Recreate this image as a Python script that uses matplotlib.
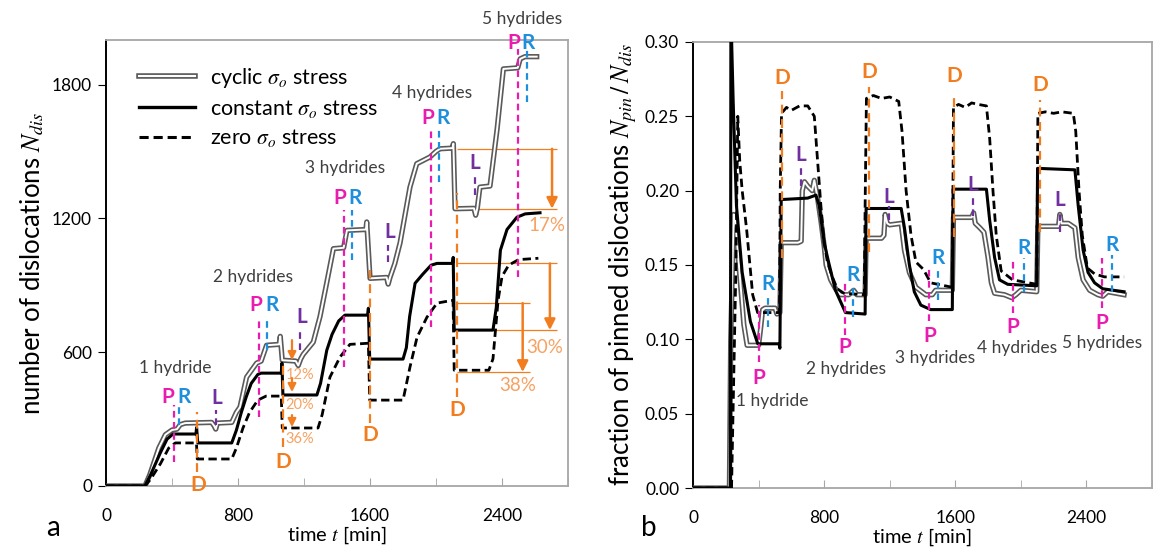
import matplotlib
matplotlib.use('Agg')
import matplotlib.pyplot as plt
import matplotlib.patheffects as pe
from matplotlib.lines import Line2D

plt.rcParams['font.family'] = ['Lato', 'DejaVu Sans']
plt.rcParams['mathtext.fontset'] = 'stix'

# ---- panel a: number of dislocations (time [min], N_dis)
cyc_a = [(0, 0), (236, 0), (265, 50), (320, 170), (360, 230), (400, 251), (430, 255), (450, 275),
         (480, 282), (640, 285), (655, 270), (665, 255), (675, 282), (762, 285), (790, 330),
         (812, 354), (852, 488), (913, 551), (940, 560), (973, 631), (1050, 635), (1056, 671),
         (1068, 564), (1150, 560), (1165, 540), (1180, 570), (1195, 590), (1256, 645),
         (1297, 760), (1337, 909), (1378, 1064), (1440, 1068), (1460, 1146), (1575, 1150),
         (1580, 1184), (1600, 931), (1700, 935), (1710, 905), (1721, 935), (1750, 997),
         (1782, 1090), (1842, 1340), (1883, 1445), (1963, 1475), (2000, 1500), (2024, 1512),
         (2100, 1515), (2105, 1535), (2115, 1243), (2230, 1245), (2240, 1214), (2250, 1245),
         (2266, 1340), (2327, 1345), (2370, 1600), (2408, 1870), (2495, 1875), (2510, 1915),
         (2539, 1925), (2610, 1925)]
con_a = [(0, 0), (236, 0), (270, 50), (330, 150), (370, 210), (406, 233), (545, 233), (549, 262),
         (556, 193), (762, 193), (790, 250), (820, 330), (850, 400), (880, 460), (920, 500),
         (940, 506), (1062, 506), (1066, 551), (1072, 408), (1278, 408), (1300, 460), (1338, 609),
         (1370, 680), (1410, 740), (1448, 766), (1585, 766), (1590, 797), (1598, 569), (1800, 569),
         (1820, 620), (1840, 760), (1873, 909), (1920, 950), (1970, 990), (2006, 998), (2100, 998),
         (2104, 1025), (2110, 699), (2345, 699), (2365, 800), (2390, 1057), (2430, 1150),
         (2490, 1205), (2540, 1220), (2630, 1225)]
zero_a = [(0, 0), (236, 0), (270, 30), (330, 100), (380, 170), (420, 193), (548, 193), (553, 121),
          (762, 121), (790, 170), (830, 260), (870, 330), (920, 385), (970, 403), (1062, 403),
          (1068, 260), (1285, 260), (1310, 320), (1357, 488), (1418, 578), (1478, 635), (1590, 640),
          (1598, 385), (1800, 385), (1842, 533), (1885, 667), (1945, 757), (2006, 820), (2103, 833),
          (2110, 519), (2320, 519), (2345, 570), (2376, 833), (2400, 940), (2440, 990),
          (2500, 1015), (2620, 1021)]

# ---- panel b: fraction of pinned dislocations
cyc_b = [(0, 0), (222, 0), (230, 0.10), (248, 0.184), (258, 0.18), (280, 0.15), (310, 0.11),
         (330, 0.096), (400, 0.096), (410, 0.105), (425, 0.12), (440, 0.121), (500, 0.121),
         (512, 0.117), (530, 0.118), (538, 0.165), (640, 0.165), (660, 0.166), (667, 0.2),
         (680, 0.206), (700, 0.203), (727, 0.2), (740, 0.207), (760, 0.195), (780, 0.18),
         (800, 0.163), (812, 0.15), (840, 0.14), (870, 0.134), (900, 0.13), (950, 0.13),
         (980, 0.133), (1000, 0.13), (1050, 0.13), (1056, 0.168), (1150, 0.168), (1165, 0.17),
         (1172, 0.184), (1185, 0.178), (1200, 0.177), (1270, 0.178), (1290, 0.16), (1320, 0.145),
         (1360, 0.135), (1420, 0.13), (1460, 0.13), (1480, 0.133), (1582, 0.133), (1589, 0.182),
         (1700, 0.182), (1712, 0.185), (1722, 0.178), (1750, 0.175), (1775, 0.172), (1800, 0.155),
         (1820, 0.138), (1840, 0.131), (1900, 0.13), (1945, 0.128), (1970, 0.13), (2000, 0.133),
         (2097, 0.132), (2104, 0.176), (2230, 0.176), (2238, 0.184), (2248, 0.178), (2290, 0.178),
         (2330, 0.175), (2350, 0.155), (2380, 0.14), (2420, 0.133), (2470, 0.13), (2500, 0.129),
         (2530, 0.132), (2630, 0.13)]
con_b = [(0, 0), (228, 0), (231, 0.32), (245, 0.26), (265, 0.19), (300, 0.145), (350, 0.112),
         (395, 0.097), (525, 0.097), (530, 0.094), (538, 0.194), (700, 0.195), (750, 0.197),
         (770, 0.19), (800, 0.165), (827, 0.152), (869, 0.133), (930, 0.118), (1050, 0.117),
         (1056, 0.188), (1270, 0.188), (1290, 0.175), (1320, 0.15), (1350, 0.132), (1390, 0.123),
         (1450, 0.12), (1582, 0.12), (1587, 0.201), (1790, 0.201), (1810, 0.18), (1840, 0.155),
         (1870, 0.14), (1920, 0.137), (2097, 0.136), (2102, 0.215), (2330, 0.214), (2350, 0.19),
         (2380, 0.16), (2410, 0.145), (2450, 0.138), (2500, 0.134), (2630, 0.132)]
zero_b = [(0, 0), (235, 0), (262, 0.15), (273, 0.25), (285, 0.22), (300, 0.20), (327, 0.174),
          (364, 0.13), (394, 0.118), (528, 0.118), (532, 0.20), (540, 0.252), (570, 0.256),
          (600, 0.254), (650, 0.257), (700, 0.257), (740, 0.25), (760, 0.22), (780, 0.19),
          (800, 0.165), (820, 0.152), (850, 0.142), (880, 0.134), (920, 0.131), (1045, 0.13),
          (1050, 0.19), (1058, 0.262), (1100, 0.264), (1150, 0.262), (1200, 0.263), (1255, 0.26),
          (1275, 0.24), (1300, 0.2), (1330, 0.17), (1360, 0.152), (1406, 0.147), (1450, 0.138),
          (1582, 0.135), (1589, 0.256), (1620, 0.258), (1660, 0.256), (1700, 0.259), (1740, 0.258),
          (1790, 0.257), (1810, 0.235), (1830, 0.2), (1850, 0.17), (1880, 0.146), (1950, 0.14),
          (2097, 0.137), (2104, 0.252), (2150, 0.253), (2200, 0.252), (2250, 0.253), (2320, 0.252),
          (2335, 0.24), (2355, 0.2), (2375, 0.17), (2406, 0.148), (2450, 0.144), (2510, 0.142),
          (2630, 0.142)]

# event markers (time, low, high) for panel a
P_a = [(412, 107, 363), (927, 309, 752), (1442, 533, 1236), (1970, 712, 1608), (2497, 936, 1961)]
R_a = [(442, 273, 363), (976, 609, 752), (1491, 1012, 1236), (2018, 1361, 1608), (2552, 1720, 1961)]
L_a = [(667, 273, 340), (1176, 609, 708), (1709, 1003, 1079), (2236, 1303, 1393)]
D_a = [(551, 63, 331), (1073, 175, 551), (1600, 282, 967), (2127, 399, 1312)]
P_txt_a = [(376, 399), (909, 810), (1418, 1290), (1951, 1648), (2473, 1988)]
R_txt_a = [(473, 399), (1006, 810), (1509, 1290), (2042, 1648), (2558, 1988)]
L_txt_a = [(673, 394), (1188, 757), (1721, 1137), (2236, 1446)]
D_txt_a = [(557, 4), (1073, 107), (1600, 228), (2127, 340)]
hyd_txt_a = [(418, 528), (891, 936), (1448, 1424), (1976, 1764), (2521, 2096)]
hyd_names = ['1 hydride', '2 hydrides', '3 hydrides', '4 hydrides', '5 hydrides']

# drop annotations panel a
small_drops = [(1127, 654, 564, '12%', 497), (1127, 484, 421, '20%', 363), (1127, 318, 264, '36%', 210)]
big_drops = [(1512, 1243, 2703, 2733, '17%', 1169), (998, 699, 2690, 2733, '30%', 622),
             (820, 511, 2525, 2570, '38%', 452)]

# event markers panel b
P_b = [(400, 0.085, 0.123), (927, 0.103, 0.139), (1442, 0.112, 0.148), (1951, 0.118, 0.153), (2497, 0.121, 0.155)]
R_b = [(455, 0.108, 0.130), (976, 0.115, 0.137), (1497, 0.1265, 0.148), (2018, 0.132, 0.155), (2557, 0.132, 0.157)]
L_b = [(660, 0.203, 0.217), (1194, 0.180, 0.190), (1709, 0.183, 0.197), (2236, 0.172, 0.186)]
D_b = [(545, 0.155, 0.267), (1075, 0.159, 0.270), (1594, 0.169, 0.263), (2120, 0.172, 0.261)]
P_txt_b = [0.074, 0.095, 0.102, 0.108, 0.111]
R_txt_b = [0.137, 0.143, 0.155, 0.1615, 0.1635]
L_txt_b = [0.224, 0.196, 0.204, 0.194]
D_txt_b = [0.276, 0.280, 0.277, 0.271]
hyd_txt_b = [(484, 0.0585), (933, 0.080), (1479, 0.0875), (1976, 0.094), (2497, 0.0976)]

C_P = '#EA1CB0'
C_R = '#1E8FDC'
C_L = '#7030A0'
C_D = '#F27D1F'
C_PCT = '#F6A262'
C_TXT = '#3F3F3F'
C_SPINE = '#A6A6A6'

# double (hollow) line for the cyclic case
CYC_FX = [pe.Stroke(linewidth=3.8, foreground='#5A5A5A'), pe.Normal()]


def unzip(pairs):
    return [p[0] for p in pairs], [p[1] for p in pairs]


def draw_series(ax, cyc, con, zero):
    t, v = unzip(cyc)
    ax.plot(t, v, color='white', lw=1.4, zorder=3, path_effects=CYC_FX)
    t, v = unzip(con)
    ax.plot(t, v, color='black', lw=2.2, zorder=4)
    t, v = unzip(zero)
    ax.plot(t, v, color='black', lw=2.0, ls=(0, (3, 1.6)), zorder=4)


def style_axes(ax, ymax, yticks, yfmt):
    ax.set_xlim(0, 2800)
    ax.set_ylim(0, ymax)
    ax.set_xticks([0, 800, 1600, 2400])
    ax.set_xticks([400, 1200, 2000, 2800], minor=True)
    ax.set_yticks(yticks)
    ax.set_yticklabels([yfmt.format(v) for v in yticks])
    ax.tick_params(axis='x', which='both', direction='in', length=6, color=C_SPINE,
                   labelsize=12.5, pad=16)
    ax.tick_params(axis='y', direction='out', length=6, labelsize=12.5, pad=4)
    for s in ['top', 'right', 'bottom']:
        ax.spines[s].set_color(C_SPINE)
        ax.spines[s].set_linewidth(1.3)
    ax.spines['left'].set_color('black')
    ax.spines['left'].set_linewidth(1.4)
    ax.set_xlabel('time $t$ [min]', fontsize=14.5, labelpad=0)


def vline(ax, t, lo, hi, color, dash):
    ax.plot([t, t], [lo, hi], color=color, lw=1.6, ls=dash, zorder=5, clip_on=False)


fig = plt.figure(figsize=(11.56, 5.5), dpi=100)
axa = fig.add_axes([0.0917, 0.1164, 0.3997, 0.811])
axb = fig.add_axes([0.5995, 0.1127, 0.3970, 0.811])

# ---------------- panel a
draw_series(axa, cyc_a, con_a, zero_a)
style_axes(axa, 2000, [0, 600, 1200, 1800], '{:d}')
axa.set_ylabel('number of dislocations $N_{dis}$', fontsize=18.5, labelpad=4)

for t, lo, hi in P_a:
    vline(axa, t, lo, hi, C_P, (0, (3, 2)))
for t, lo, hi in R_a:
    vline(axa, t, lo, hi, C_R, (0, (3, 2)))
for t, lo, hi in L_a:
    vline(axa, t, lo, hi, C_L, (0, (3, 2)))
for t, lo, hi in D_a:
    vline(axa, t, lo, hi, C_D, (0, (4, 2.5)))

lab = dict(ha='center', va='center', fontsize=15, fontweight='bold', clip_on=False, zorder=6)
for (x, y) in P_txt_a:
    axa.text(x, y, 'P', color=C_P, **lab)
for (x, y) in R_txt_a:
    axa.text(x, y, 'R', color=C_R, **lab)
for (x, y) in L_txt_a:
    axa.text(x, y, 'L', color=C_L, **lab)
for (x, y) in D_txt_a:
    axa.text(x, y, 'D', color=C_D, **lab)
for (x, y), name in zip(hyd_txt_a, hyd_names):
    axa.text(x, y, name, ha='center', va='center', fontsize=12.5, color=C_TXT, clip_on=False)

for t, hi, lo, txt, ty in small_drops:
    axa.annotate('', xy=(t, lo), xytext=(t, hi),
                 arrowprops=dict(arrowstyle='-|>', color=C_D, lw=1.6, mutation_scale=12,
                                 shrinkA=0, shrinkB=0))
    axa.text(t + 48, ty, txt, ha='center', va='center', fontsize=10.5, color=C_PCT)

for hi, lo, tarr, tend, txt, ty in big_drops:
    axa.hlines([hi, lo], 2127, tend, color=C_D, lw=0.9, zorder=2)
    axa.annotate('', xy=(tarr, lo), xytext=(tarr, hi),
                 arrowprops=dict(arrowstyle='-|>', color=C_D, lw=1.8, mutation_scale=16,
                                 shrinkA=0, shrinkB=0))
    axa.text(tarr - 30, ty, txt, ha='center', va='center', fontsize=13.5, color=C_PCT)

h_cyc = Line2D([], [], color='white', lw=1.5,
               path_effects=[pe.Stroke(linewidth=4.0, foreground='#5A5A5A'), pe.Normal()])
h_con = Line2D([], [], color='black', lw=2.4)
h_zero = Line2D([], [], color='black', lw=2.2, ls=(0, (3, 1.6)))
axa.legend([h_cyc, h_con, h_zero],
           [r'cyclic $\sigma_o$ stress', r'constant $\sigma_o$ stress', r'zero $\sigma_o$ stress'],
           loc='upper left', bbox_to_anchor=(0.03, 0.985), frameon=False, fontsize=15.5,
           handlelength=2.6, handletextpad=0.7, labelspacing=0.35)

fig.text(0.046, 0.04, 'a', fontsize=20, ha='center', va='center')

# ---------------- panel b
draw_series(axb, cyc_b, con_b, zero_b)
style_axes(axb, 0.30, [0, 0.05, 0.10, 0.15, 0.20, 0.25, 0.30], '{:.2f}')
axb.set_ylabel('fraction of pinned dislocations $N_{pin}\\,/\\,N_{dis}$', fontsize=18.5, labelpad=4)

for (t, lo, hi), y in zip(P_b, P_txt_b):
    vline(axb, t, lo, hi, C_P, (0, (3, 2)))
    axb.text(t, y, 'P', color=C_P, **lab)
for (t, lo, hi), y in zip(R_b, R_txt_b):
    vline(axb, t, lo, hi, C_R, (0, (3, 2)))
    axb.text(t, y, 'R', color=C_R, **lab)
for (t, lo, hi), y in zip(L_b, L_txt_b):
    vline(axb, t, lo, hi, C_L, (0, (3, 2)))
    axb.text(t, y, 'L', color=C_L, **lab)
for (t, lo, hi), y in zip(D_b, D_txt_b):
    vline(axb, t, lo, hi, C_D, (0, (4, 2.5)))
    axb.text(t, y, 'D', color=C_D, **lab)
for (x, y), name in zip(hyd_txt_b, hyd_names):
    axb.text(x, y, name, ha='center', va='center', fontsize=12.5, color=C_TXT, clip_on=False)

fig.text(0.561, 0.04, 'b', fontsize=20, ha='center', va='center')

fig.savefig('out.png', dpi=100)
